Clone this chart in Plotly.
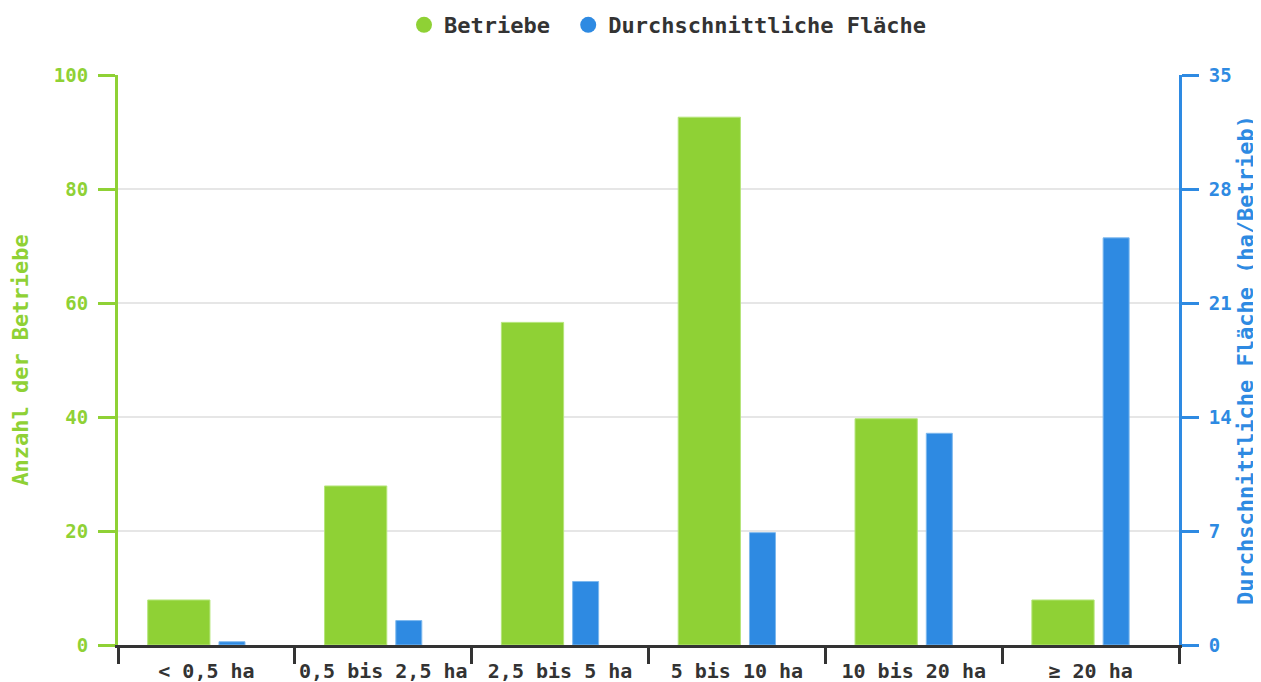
import plotly.graph_objects as go

categories = ["< 0,5 ha", "0,5 bis 2,5 ha", "2,5 bis 5 ha", "5 bis 10 ha", "10 bis 20 ha", "≥ 20 ha"]
betriebe = [7.9, 27.9, 56.6, 92.6, 39.7, 7.9]
flaeche = [0.2, 1.5, 3.9, 6.9, 13.0, 25.0]
left_ticks = [0, 20, 40, 60, 80, 100]
right_ticks = [0, 7, 14, 21, 28, 35]

GREEN = "#8FD135"
BLUE = "#2E8AE2"
DARK = "#333333"
FONT = "DejaVu Sans Mono"

fig = go.Figure()
fig.add_trace(go.Bar(x=categories, y=betriebe, name="Betriebe", marker=dict(color=GREEN, line=dict(color="#B5E57A", width=1)),
                     offset=-0.332, width=0.352, yaxis="y", showlegend=False))
fig.add_trace(go.Bar(x=categories, y=flaeche, name="Durchschnittliche Fläche", marker=dict(color=BLUE, line=dict(color="#7DB8EE", width=1)),
                     offset=0.071, width=0.147, yaxis="y2", showlegend=False))
# legend entries with circle symbols
fig.add_trace(go.Scatter(x=[None], y=[None], mode="markers", name="Betriebe ",
                         marker=dict(symbol="circle", size=22, color=GREEN), showlegend=True))
fig.add_trace(go.Scatter(x=[None], y=[None], mode="markers", name="Durchschnittliche Fläche",
                         marker=dict(symbol="circle", size=22, color=BLUE), showlegend=True))

fig.update_layout(
    width=1253, height=674,
    margin=dict(l=110, r=82, t=67, b=37),
    paper_bgcolor="white", plot_bgcolor="white",
    barmode="overlay",
    font=dict(family=FONT, size=20, color=DARK, weight="bold"),
    legend=dict(orientation="h", x=(668 - 8) / 1253, xanchor="center", xref="container",
                y=1 - 17 / 674, yanchor="middle", yref="container",
                font=dict(family=FONT, size=22, color=DARK, weight="bold"),
                itemsizing="trace"),
    xaxis=dict(type="category", categoryorder="array", categoryarray=categories,
               showline=True, linecolor=DARK, linewidth=3, automargin=False, tickangle=0,
               ticks="outside", tickson="boundaries", ticklen=16, tickwidth=3, tickcolor=DARK,
               ticklabelstandoff=6,
               tickfont=dict(family=FONT, size=20, color=DARK, weight="bold"),
               showgrid=False, range=[-0.5, 5.5], fixedrange=True),
    yaxis=dict(range=[0, 100], tickvals=left_ticks, showline=True, linecolor=GREEN, linewidth=3, automargin=False,
               ticks="outside", ticklen=17, tickwidth=3, tickcolor=GREEN, ticklabelstandoff=6,
               tickfont=dict(family=FONT, size=19, color=GREEN, weight="bold"),
               showgrid=True, gridcolor="#E6E6E6", gridwidth=1.5, zeroline=False,
               title=dict(text="Anzahl der Betriebe", font=dict(family=FONT, size=22, color=GREEN, weight="bold"), standoff=21)),
    yaxis2=dict(range=[0, 35], tickvals=right_ticks, overlaying="y", side="right",
                showline=True, linecolor=BLUE, linewidth=3, automargin=False,
                ticks="outside", ticklen=17, tickwidth=3, tickcolor=BLUE, ticklabelstandoff=6,
                tickfont=dict(family=FONT, size=19, color=BLUE, weight="bold"),
                showgrid=False, zeroline=False),
)
fig.add_annotation(text="Durchschnittliche Fläche (ha/Betrieb)", textangle=-90,
                   xref="paper", yref="paper", x=(1237 - 110) / 1061, y=0.5,
                   xanchor="center", yanchor="middle", showarrow=False,
                   font=dict(family=FONT, size=22, color=BLUE, weight="bold"))

fig.write_html("out.html")
